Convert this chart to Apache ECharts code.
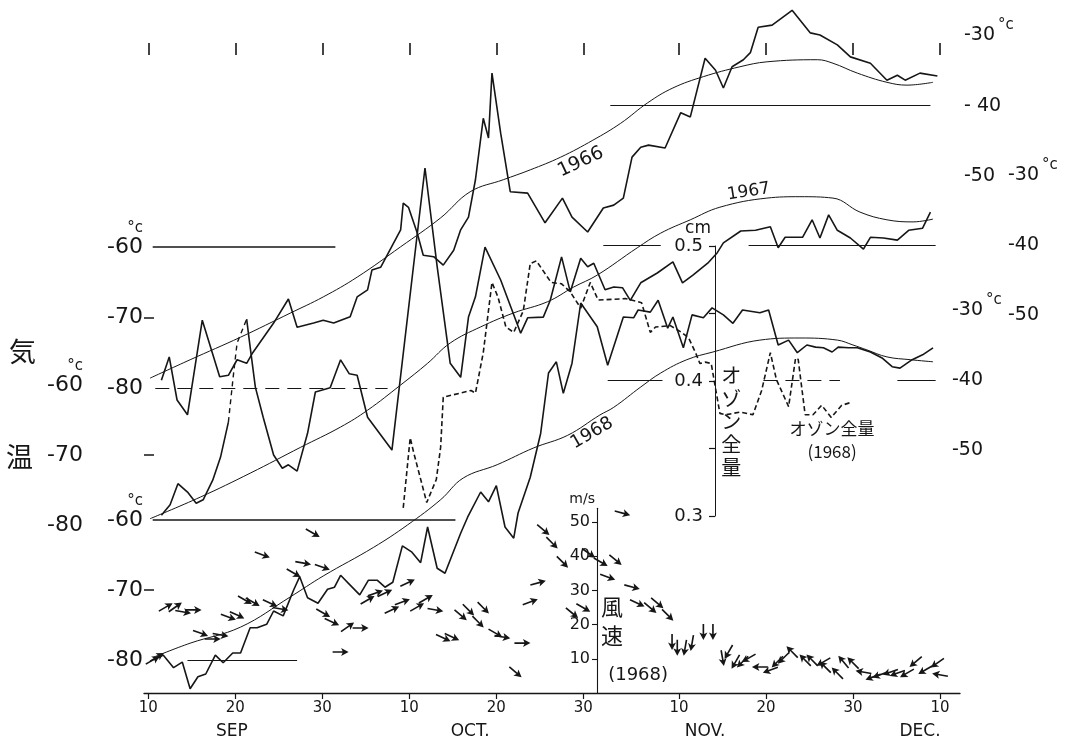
<!DOCTYPE html>
<html><head><meta charset="utf-8">
<script src="https://cdn.jsdelivr.net/npm/echarts@6/dist/echarts.min.js"></script>
<style>html,body{margin:0;padding:0;background:#fff}#c{width:1078px;height:745px}</style>
</head><body><div id="c"></div>
<script>
// ---- x axis: days counted from Aug 31 (Sep 10 = 10, Oct 10 = 40, Nov 10 = 71, Dec 10 = 101)
const tickDays = [10, 20, 30, 40, 50, 60, 71, 81, 91, 101];
const tickLabels = ['10', '20', '30', '10', '20', '30', '10', '20', '30', '10'];
const monthDays = [19.6, 47, 74, 98.7];
const monthLabels = ['SEP', 'OCT.', 'NOV.', 'DEC.'];

// ---- 1966 temperature (°C)
const days66 = [11.5,12.4,13.3,14.5,16.2,18.2,19.2,20.2,21.3,22.0,24.4,26.1,27.1,29.0,30.1,31.3,33.2,34.0,35.2,35.7,36.7,39.0,39.3,39.9,40.9,41.6,42.8,43.9,45.1,45.9,46.8,47.6,48.5,49.1,49.5,50.5,51.6,53.6,55.6,57.6,58.7,60.5,62.3,63.5,64.6,65.6,66.6,67.5,69.4,71.2,72.3,74.0,75.2,76.1,77.1,78.4,79.2,80.1,81.7,84.0,86.1,87.2,89.2,90.7,93.0,94.9,96.1,97.0,98.7,100.7];
const temp66 = [-78.9,-75.6,-81.7,-83.8,-70.4,-78.4,-78.2,-76.0,-76.5,-75.0,-70.8,-67.4,-71.4,-70.8,-70.4,-70.8,-69.9,-67.1,-66.1,-63.3,-62.9,-57.6,-53.8,-54.4,-58.0,-61.2,-61.4,-62.6,-60.5,-57.6,-55.8,-50.5,-41.8,-44.6,-35.4,-43.9,-52.2,-52.4,-56.6,-53.1,-55.8,-57.9,-54.5,-54.1,-53.1,-47.3,-45.9,-45.6,-46.0,-41.0,-41.6,-33.3,-35.0,-37.5,-34.5,-33.5,-32.5,-28.9,-28.6,-26.5,-29.7,-30.0,-31.4,-33.1,-34.0,-36.4,-35.7,-36.4,-35.4,-35.8];
const smoothDays66 = [10.2,14.8,20.6,26.3,30.1,34.0,39.0,43.6,47.0,50.8,53.9,57.4,61.1,64.3,67.4,70.3,73.8,78.0,81.1,86.9,88.7,91.5,94.9,97.2,100.2];
const smooth66 = [-78.6,-76.0,-72.8,-69.4,-67.1,-64.3,-60.0,-55.9,-52.2,-50.5,-49.1,-47.3,-44.9,-42.5,-39.6,-37.5,-35.9,-34.5,-33.8,-33.5,-34.0,-35.4,-36.7,-37.1,-36.7];

// ---- 1967 temperature (°C)
const days67 = [11.5,12.5,13.4,14.5,15.5,16.3,17.4,18.3,19.2,19.8,20.2,21.3,21.6,22.3,23.2,24.4,25.4,26.1,27.1,28.3,29.2,30.9,32.1,33.1,34.0,35.2,38.0,41.8,43.2,44.7,45.9,46.8,47.6,48.7,50.5,52.8,53.6,55.4,56.2,57.5,58.5,59.7,60.5,61.2,62.5,63.5,64.5,65.4,66.6,68.5,70.3,71.4,72.6,74.3,75.4,76.1,78.1,79.8,81.5,82.4,83.2,85.2,86.3,87.2,88.2,89.2,90.7,92.2,93.0,94.5,96.1,97.4,99.0,99.9];
const temp67 = [-78.6,-77.1,-74.1,-75.3,-76.9,-76.4,-73.6,-70.3,-65.3,-58.3,-54.0,-50.6,-53.6,-60.3,-64.6,-70.0,-71.9,-71.4,-72.3,-66.9,-61.0,-60.4,-56.4,-58.4,-58.6,-64.6,-69.3,-29.0,-43.1,-56.9,-58.9,-50.3,-47.4,-40.3,-45.0,-52.6,-50.4,-50.3,-47.9,-41.7,-46.7,-41.9,-43.1,-42.6,-46.4,-46.0,-46.1,-47.9,-45.4,-44.0,-42.4,-45.4,-44.3,-42.6,-41.1,-39.7,-38.0,-37.9,-37.4,-40.4,-38.9,-38.9,-36.4,-39.0,-35.7,-37.9,-39.0,-40.6,-38.9,-39.0,-39.3,-37.9,-37.6,-35.3];
const dashedSpan67 = [19.2, 21.3];
const smoothDays67 = [10.2,16.0,21.7,27.5,32.1,35.2,39.0,42.1,44.7,48.2,52.0,55.9,58.9,61.6,66.2,68.9,72.3,75.7,81.1,84.9,88.7,91.8,94.9,97.9,100.2];
const smooth67 = [-79.1,-76.0,-72.6,-68.9,-66.0,-63.6,-60.0,-56.9,-54.0,-51.7,-49.7,-48.1,-46.0,-44.3,-40.4,-38.3,-36.4,-34.6,-33.3,-33.1,-33.3,-35.3,-36.4,-36.7,-36.3];

// ---- 1968 temperature (°C)
const days68 = [10.6,11.7,12.9,13.9,14.8,15.7,16.6,17.7,18.6,19.7,20.6,21.7,22.5,23.6,24.4,25.5,26.7,27.4,28.3,29.5,30.6,31.4,32.1,33.2,34.3,35.3,36.3,37.2,38.1,39.2,40.3,41.3,42.1,43.2,44.1,45.9,46.7,48.2,49.1,50.0,51.0,52.0,52.5,53.9,55.1,56.0,56.9,57.7,58.7,59.7,61.6,62.8,64.6,65.8,66.3,67.7,68.6,69.7,70.3,71.5,72.5,73.8,74.8,76.1,77.2,78.3,80.3,81.3,82.4,83.6,84.6,85.7,86.7,87.6,88.6,89.3,90.5,91.5,93.0,94.4,95.5,96.4,97.8,99.0,100.2];
const temp68 = [-80.0,-79.3,-81.1,-80.3,-84.1,-82.4,-82.0,-79.3,-80.4,-79.0,-79.0,-75.4,-75.4,-74.9,-73.0,-73.7,-70.0,-68.1,-71.1,-71.9,-69.9,-69.6,-67.9,-69.3,-70.7,-68.6,-68.6,-69.6,-68.9,-63.7,-64.6,-66.1,-61.0,-66.9,-67.6,-61.9,-59.6,-56.0,-57.4,-55.1,-61.0,-62.6,-59.0,-53.9,-47.6,-39.0,-37.4,-41.9,-37.6,-29.0,-32.4,-37.9,-31.0,-31.1,-30.0,-30.3,-28.6,-32.6,-31.0,-35.4,-30.7,-31.1,-29.7,-30.7,-31.9,-30.0,-30.4,-30.0,-35.0,-34.3,-36.1,-35.0,-35.3,-35.4,-36.0,-35.3,-35.4,-35.4,-36.0,-36.9,-38.1,-38.3,-37.1,-36.4,-35.4];
const smoothDays68 = [10.6,14.8,20.6,26.3,30.1,35.9,39.8,43.6,46.2,50.1,54.3,58.2,61.9,63.5,66.6,68.9,71.9,74.9,80.3,84.9,89.2,91.0,92.6,94.9,97.6,100.2];
const smooth68 = [-79.6,-77.6,-75.3,-71.0,-68.0,-63.9,-60.7,-57.1,-54.0,-52.1,-49.7,-47.9,-45.0,-43.9,-41.0,-39.0,-37.1,-36.0,-34.3,-34.0,-34.3,-35.0,-35.7,-36.7,-37.1,-37.4];

// ---- total ozone 1968 (cm)
const ozoneDays = [39.3,40.1,40.5,42.0,43.1,43.6,43.9,47.1,47.6,48.5,49.5,50.2,51.1,52.0,53.1,53.9,54.6,56.3,57.5,58.5,59.7,60.8,61.7,64.9,66.7,67.7,68.3,70.0,71.3,72.1,72.9,73.4,74.0,74.7,75.7,76.4,78.0,79.5,80.5,81.5,82.2,83.6,84.4,84.7,85.5,86.4,87.4,88.5,89.7,90.7];
const ozone = [0.306,0.358,0.347,0.310,0.327,0.351,0.388,0.393,0.391,0.421,0.473,0.462,0.440,0.436,0.452,0.487,0.489,0.473,0.472,0.466,0.454,0.473,0.460,0.461,0.458,0.436,0.440,0.441,0.436,0.432,0.421,0.413,0.414,0.413,0.376,0.375,0.377,0.375,0.393,0.421,0.401,0.381,0.417,0.416,0.375,0.375,0.382,0.373,0.382,0.384];

// ---- wind 1968: speed (m/s) and direction the arrow points (deg, counter-clockwise from east)
const windDays = [28.9,23.1,27.8,30.0,26.7,12.0,13.1,14.0,15.2,21.1,22.0,24.0,25.2,19.2,20.2,16.0,17.4,18.3,10.5,11.0,30.1,31.1,32.9,34.4,32.1,35.2,36.1,37.2,39.8,38.0,39.2,40.9,41.9,43.0,43.9,44.9,45.9,46.8,48.5,47.9,49.9,50.7,53.0,52.2,53.9,54.8,55.4,56.4,57.6,60.6,62.0,63.7,62.8,64.5,65.6,66.2,67.7,68.5,69.7,58.7,60.0,70.2,70.8,71.7,72.5,73.8,74.9,76.0,76.7,77.5,78.3,79.0,80.3,81.5,82.3,83.0,84.0,85.5,86.3,87.6,87.8,89.2,89.9,91.0,92.2,93.3,94.1,95.3,96.1,97.2,98.2,99.3,100.7,101.0];
const windSpeed = [46.8,40.4,38.0,36.8,35.1,25.1,25.1,23.7,24.3,27.2,26.6,26.3,24.6,22.2,22.8,17.5,15.8,17.0,9.6,10.5,23.4,20.8,19.3,19.0,12.0,27.2,29.2,29.2,32.2,24.3,26.6,25.1,27.5,24.3,16.1,16.4,22.8,24.3,24.9,20.8,17.5,16.4,14.6,6.1,26.6,32.2,47.7,43.9,38.3,40.9,38.3,38.9,33.9,52.6,31.0,26.3,24.9,26.3,22.8,23.4,24.9,14.9,13.2,13.2,14.6,17.8,17.8,10.2,12.0,9.1,9.1,10.2,7.6,6.7,9.1,10.2,12.0,9.6,9.6,9.1,7.6,5.8,9.1,8.8,6.1,4.7,5.3,6.1,5.8,5.8,9.1,6.7,8.8,5.3];
const windDir = [-30,-20,-10,-20,-30,30,35,-10,0,-30,-30,-25,-10,-20,-25,-20,0,-10,30,30,-30,-25,35,0,0,30,20,25,25,25,20,30,30,-10,-25,-25,-40,-45,-45,-45,-30,-10,0,-40,20,15,-40,-45,-45,-35,-30,-40,-20,-15,-15,-25,-40,-40,-45,-40,-30,-90,-90,-100,-100,-90,-90,-80,-120,-120,-135,-150,180,-160,-135,-135,135,135,135,-150,135,135,130,135,170,-160,-160,-160,-160,-150,-140,-150,-145,170];

// ---- reference levels: [temperature, from day, to day]
const refLines66 = [[-40, 63.1, 99.9], [-60, 10.5, 31.5], [-80, 10.8, 37.5]];
const refLines67 = [[-40, 62.3, 68.9], [-40, 79.0, 100.5]];
const refLines68 = [[-40, 62.8, 69.1], [-40, 80.7, 89.5], [-40, 96.1, 100.5], [-60, 10.5, 45.3], [-80, 14.5, 27.1]];

// ---- axis label values
const leftTempLabels = [-80, -70, -60];
const rightTempLabels = [-50, -40, -30];
const ozoneLabels = [0.3, 0.4, 0.5];

const INK = '#161616';
const NUM = 'DejaVu Sans';
const JP = 'Noto Sans CJK JP';
const X_MIN = 9.5, X_MAX = 103.3;
const zip = (a, b) => a.map((v, i) => [v, b[i]]);

const G = { left: 144, right: 118, outerBoundsMode: 'none' };
const grids = [
  Object.assign({ top: 40, height: 15 }, G),       // 0 top date ticks
  Object.assign({ top: 35, height: 353 }, G),      // 1 1966
  Object.assign({ top: 175, height: 350 }, G),     // 2 1967
  Object.assign({ top: 310, height: 350 }, G),     // 3 1968
  Object.assign({ top: 246, height: 270 }, G),     // 4 ozone
  Object.assign({ top: 508.3, height: 184.7 }, G)  // 5 wind
];

function hiddenX(gi) { return { type: 'value', gridIndex: gi, min: X_MIN, max: X_MAX, show: false }; }
const xAxes = [
  { type: 'value', gridIndex: 0, min: X_MIN, max: X_MAX, position: 'bottom',
    axisLine: { show: false }, splitLine: { show: false }, axisLabel: { show: false },
    axisTick: { show: true, inside: true, length: 12, customValues: tickDays, lineStyle: { color: INK, width: 1.6 } } },
  hiddenX(1), hiddenX(2), hiddenX(3), hiddenX(4),
  { type: 'value', gridIndex: 5, min: X_MIN, max: X_MAX, position: 'bottom',
    axisLine: { show: true, lineStyle: { color: INK, width: 1.3 } }, splitLine: { show: false },
    axisTick: { show: true, length: 6, customValues: tickDays, lineStyle: { color: INK, width: 1.2 } },
    axisLabel: { customValues: tickDays, margin: 8, color: INK, fontFamily: NUM, fontSize: 15,
      formatter: v => tickLabels[tickDays.indexOf(v)] ?? '' } },
  { type: 'value', gridIndex: 5, min: X_MIN, max: X_MAX, position: 'bottom', offset: 22,
    axisLine: { show: false }, axisTick: { show: false }, splitLine: { show: false },
    axisLabel: { customValues: monthDays, margin: 8, color: INK, fontFamily: NUM, fontSize: 17,
      formatter: v => { let k = 0; monthDays.forEach((m, i) => { if (Math.abs(m - v) < Math.abs(monthDays[k] - v)) k = i; }); return monthLabels[k]; } } }
];

const richL = {
  n: { fontSize: 22, lineHeight: 24, fontFamily: NUM, color: INK },
  u: { fontSize: 15, lineHeight: 13, fontFamily: NUM, color: INK },
  e: { fontSize: 15, lineHeight: 13 }
};
const richR = {
  n: { fontSize: 19, lineHeight: 34, fontFamily: NUM, color: INK },
  u: { fontSize: 15, lineHeight: 15, fontFamily: NUM, color: INK, verticalAlign: 'top', padding: [0, 0, 0, 3] }
};
function leftTempAxis(gi, offset, tickVals) {
  return { type: 'value', gridIndex: gi, position: 'left', offset: offset, min: -80, max: -30, interval: 10,
    axisLine: { show: false }, splitLine: { show: false },
    axisTick: { show: !!tickVals, inside: true, length: 10, customValues: tickVals || [], lineStyle: { color: INK, width: 1.5 } },
    axisLabel: { customValues: leftTempLabels, margin: 1, rich: richL,
      formatter: v => v === -60 ? '{u|°c}\n{n|-60}\n{e| }' : '{n|' + v + '}' } };
}
function rightTempAxis(gi, offset, margin, spaced) {
  return { type: 'value', gridIndex: gi, position: 'right', offset: offset, min: -80, max: -30, interval: 10,
    axisLine: { show: false }, splitLine: { show: false }, axisTick: { show: false },
    axisLabel: { customValues: rightTempLabels, margin: margin, rich: richR,
      formatter: v => v === -30 ? '{n|-30}{u|°c}' : (spaced && v === -40 ? '{n|- 40}' : '{n|' + v + '}') } };
}
const yAxes = [
  { type: 'value', gridIndex: 0, min: 0, max: 1, show: false },
  leftTempAxis(1, 0, [-70]),
  rightTempAxis(1, 0, 4, true),
  leftTempAxis(2, 60, null),
  rightTempAxis(2, 46, 2, false),
  { type: 'value', gridIndex: 2, position: 'left', offset: 0, min: -80, max: -30, interval: 10,
    axisLine: { show: false }, splitLine: { show: false }, axisLabel: { show: false },
    axisTick: { show: true, inside: true, length: 10, customValues: [-70], lineStyle: { color: INK, width: 1.5 } } },
  leftTempAxis(3, 0, [-70]),
  rightTempAxis(3, -8, 0, false),
  { type: 'value', gridIndex: 4, position: 'left', offset: -571, min: 0.3, max: 0.5, interval: 0.05,
    axisLine: { show: true, lineStyle: { color: INK, width: 1 } }, splitLine: { show: false },
    axisTick: { show: true, length: 6, lineStyle: { color: INK, width: 1.2 } },
    axisLabel: { customValues: ozoneLabels, margin: 12, color: INK, fontFamily: NUM, fontSize: 18, formatter: v => v.toFixed(1) },
    name: 'cm', nameLocation: 'end', nameGap: 5, nameTextStyle: { color: INK, fontFamily: NUM, fontSize: 17, align: 'right', padding: [0, 4, 0, 0] } },
  { type: 'value', gridIndex: 5, position: 'left', offset: -453, min: 0, max: 54, interval: 10,
    axisLine: { show: true, lineStyle: { color: INK, width: 1.1 } }, splitLine: { show: false },
    axisTick: { show: true, length: 5, customValues: [10, 20, 30, 40, 50], lineStyle: { color: INK, width: 1.1 } },
    axisLabel: { customValues: [10, 20, 30, 40, 50], margin: 7, color: INK, fontFamily: NUM, fontSize: 16 },
    name: 'm/s', nameLocation: 'end', nameGap: 2, nameTextStyle: { color: INK, fontFamily: NUM, fontSize: 14, align: 'right', padding: [0, 2, 0, 0] } }
];

function refMarkLine(list, dashedIdx) {
  return { silent: true, symbol: ['none', 'none'], label: { show: false },
    lineStyle: { color: INK, width: 1, type: 'solid', opacity: 1 },
    data: list.map((r, i) => [
      { coord: [r[1], r[0]], lineStyle: { color: INK, opacity: 1, width: r[0] === -60 ? 1.5 : 1, type: dashedIdx.includes(i) ? [14, 8] : 'solid' } },
      { coord: [r[2], r[0]] }
    ]) };
}

const rawStyle = { color: INK, width: 1.6 };
const smoothStyle = { color: INK, width: 1 };
function lineSeries(xi, yi, data, style, extra) {
  return Object.assign({ type: 'line', xAxisIndex: xi, yAxisIndex: yi, data: data, symbol: 'none',
    lineStyle: style, clip: false, silent: true, z: 3 }, extra || {});
}

const pts67 = zip(days67, temp67);
const i67a = days67.indexOf(dashedSpan67[0]);
const i67b = days67.indexOf(dashedSpan67[1]);

const arrowPath = 'path://M0,4.1L10,4.1L8.5,0.6L16,5L8.5,9.4L10,5.9L0,5.9Z';

function textSeries(xi, yi, items, base) {
  return { type: 'scatter', xAxisIndex: xi, yAxisIndex: yi, symbolSize: 1, clip: false, silent: true, z: 5,
    itemStyle: { color: 'rgba(0,0,0,0)', opacity: 1 },
    label: Object.assign({ show: true, position: 'inside', color: INK, opacity: 1, fontFamily: NUM }, base),
    data: items.map(t => ({ value: [t[0], t[1]], label: { formatter: t[2], rotate: t[3] || 0 } })) };
}

const series = [
  lineSeries(1, 1, zip(days66, temp66), rawStyle),
  lineSeries(1, 1, zip(smoothDays66, smooth66), smoothStyle, { smooth: 0.4, markLine: refMarkLine(refLines66, [2]) }),
  lineSeries(2, 3, pts67.slice(0, i67a + 1), rawStyle),
  lineSeries(2, 3, pts67.slice(i67a, i67b + 1), { color: INK, width: 1.4, type: [5, 4] }),
  lineSeries(2, 3, pts67.slice(i67b), rawStyle),
  lineSeries(2, 3, zip(smoothDays67, smooth67), smoothStyle, { smooth: 0.4, markLine: refMarkLine(refLines67, []) }),
  lineSeries(3, 6, zip(days68, temp68), rawStyle),
  lineSeries(3, 6, zip(smoothDays68, smooth68), smoothStyle, { smooth: 0.4, markLine: refMarkLine(refLines68, [1]) }),
  lineSeries(4, 8, zip(ozoneDays, ozone), { color: INK, width: 1.6, type: [5, 3] }),
  { type: 'scatter', xAxisIndex: 5, yAxisIndex: 9, silent: true, clip: false, z: 4,
    symbol: arrowPath, symbolSize: [16, 8], itemStyle: { color: INK, opacity: 1 },
    data: windDays.map((d, i) => ({ value: [d, windSpeed[i]], symbolRotate: windDir[i] })) },
  textSeries(1, 1, [[59.7, -48.0, '1966', 25]], { fontSize: 19 }),
  textSeries(2, 3, [[79.0, -32.4, '1967', 9]], { fontSize: 17 }),
  textSeries(3, 6, [[61.0, -47.6, '1968', 30]], { fontSize: 18 }),
  textSeries(4, 8, [[77.0, 0.370, 'オ\nゾ\nン\n全\n量']], { fontSize: 20, lineHeight: 23, fontFamily: JP }),
  textSeries(4, 8, [[88.6, 0.356, 'オゾン全量\n(1968)']], { fontSize: 17, lineHeight: 23, fontFamily: JP }),
  textSeries(5, 9, [[63.3, 21.1, '風\n速']], { fontSize: 22, lineHeight: 29, fontFamily: JP }),
  textSeries(5, 9, [[66.3, 5.3, '(1968)']], { fontSize: 18 })
];

const chart = echarts.init(document.getElementById('c'), null, { renderer: 'canvas' });
chart.setOption({
  backgroundColor: '#ffffff',
  animation: false,
  grid: grids,
  xAxis: xAxes,
  yAxis: yAxes,
  series: series,
  graphic: [
    { type: 'text', left: 9, top: 338, style: { text: '気', font: '27px "Noto Sans CJK JP"', fill: INK } },
    { type: 'text', left: 6, top: 443, style: { text: '温', font: '27px "Noto Sans CJK JP"', fill: INK } }
  ]
});
</script>
</body></html>
